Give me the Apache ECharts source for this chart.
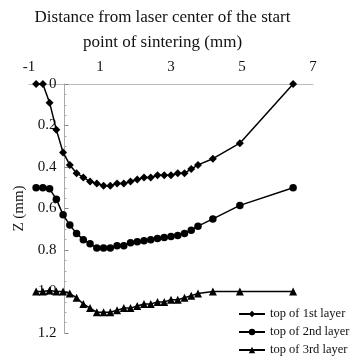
<!DOCTYPE html>
<html><head><meta charset="utf-8">
<script src="https://cdn.jsdelivr.net/npm/echarts@6/dist/echarts.min.js"></script>
<style>html,body{margin:0;padding:0;background:#fff}#c{width:354px;height:360px}</style>
</head><body><div id="c"></div>
<script>
var distances = [-0.8,-0.61,-0.42,-0.23,-0.04,0.15,0.34,0.53,0.72,0.91,1.1,1.29,1.48,1.67,1.86,2.05,2.24,2.43,2.62,2.81,3.0,3.19,3.38,3.57,3.76,4.18,4.94,6.44];
var layer1 = [0,0,0.09,0.22,0.33,0.39,0.43,0.45,0.47,0.48,0.49,0.49,0.48,0.48,0.47,0.46,0.45,0.45,0.44,0.44,0.44,0.43,0.43,0.41,0.39,0.36,0.285,0];
var layer2 = [0.5,0.5,0.505,0.555,0.63,0.68,0.72,0.75,0.77,0.79,0.79,0.79,0.78,0.78,0.765,0.76,0.755,0.75,0.745,0.74,0.735,0.73,0.72,0.705,0.685,0.65,0.585,0.5];
var layer3 = [1.0,1.0,0.995,1.0,1.0,1.01,1.03,1.06,1.08,1.1,1.1,1.1,1.09,1.08,1.08,1.07,1.06,1.06,1.05,1.05,1.04,1.04,1.03,1.02,1.01,1.0,1.0,1.0];
var seriesNames = ['top of 1st layer','top of 2nd layer','top of 3rd layer'];
var xTitle = 'Distance from laser center of the start\npoint of sintering (mm)';
var yTitle = 'Z (mm)';

function pairs(ys){ return distances.map(function(x,i){ return [x, ys[i]]; }); }
var font = 'Liberation Serif';
var chart = echarts.init(document.getElementById('c'));
var mk = function(name, data, sym, size){
  return {name:name, type:'line', data:pairs(data), symbol:sym, symbolSize:size,
    lineStyle:{color:'#000', width:1.5}, itemStyle:{color:'#000'}, animation:false};
};
chart.setOption({
  animation:false,
  backgroundColor:'#fff',
  grid:{left:29, right:41, top:84, bottom:27, outerBoundsMode:'none', containLabel:false},
  xAxis:{type:'value', position:'top', min:-1, max:7, interval:1,
    name:xTitle, nameLocation:'middle', nameGap:27,
    nameTextStyle:{fontFamily:font, fontSize:17, color:'#111', lineHeight:25, padding:[0,17,0,0]},
    axisLine:{show:true, lineStyle:{color:'#bbb', width:1}},
    axisTick:{show:false}, splitLine:{show:false},
    axisLabel:{fontFamily:font, fontSize:15, color:'#111', margin:9,
      formatter:function(v){ return (Math.round(v) % 2 !== 0) ? String(v) : ''; }}
  },
  yAxis:{type:'value', inverse:true, min:0, max:1.2, interval:0.2, offset:-35.5,
    name:yTitle, nameLocation:'middle', nameGap:38,
    nameTextStyle:{fontFamily:font, fontSize:15, color:'#111'},
    axisLine:{show:true, onZero:false, lineStyle:{color:'#aaa', width:1}},
    axisTick:{show:true, inside:true, length:4, lineStyle:{color:'#888'}},
    minorTick:{show:true, splitNumber:4, length:2, lineStyle:{color:'#aaa'}},
    splitLine:{show:false},
    axisLabel:{fontFamily:font, fontSize:15, color:'#111', margin:8,
      formatter:function(v){ return v===0 ? '0' : v.toFixed(1); }}
  },
  legend:{orient:'vertical', left:238, top:307, padding:0, itemWidth:26, itemHeight:8, itemGap:4,
    textStyle:{fontFamily:font, fontSize:12.5, color:'#111', lineHeight:14}, data:seriesNames},
  series:[
    mk(seriesNames[0], layer1, 'diamond', 8),
    mk(seriesNames[1], layer2, 'circle', 7.5),
    mk(seriesNames[2], layer3, 'triangle', 8)
  ]
});
</script></body></html>
